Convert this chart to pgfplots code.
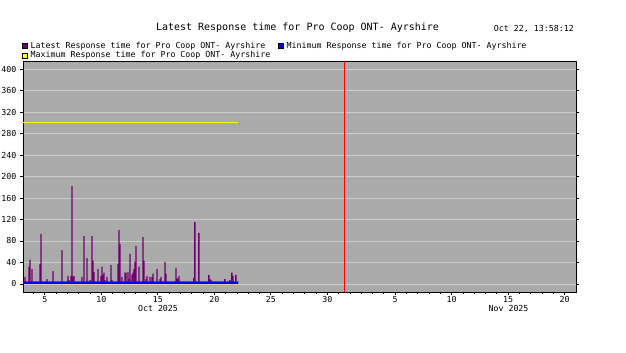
\documentclass[border=0pt]{standalone}
\usepackage{pgfplots}
\pgfplotsset{compat=1.18}
\usepackage{fontspec}
\setmainfont{DejaVu Sans Mono}
\definecolor{latest}{RGB}{112,0,112}
\definecolor{minblue}{RGB}{0,0,255}
\definecolor{maxyellow}{RGB}{255,255,0}
\definecolor{bg}{RGB}{170,170,170}
\definecolor{gridc}{RGB}{204,204,204}
\newcommand\smallf{\fontsize{8.3}{9.5}\selectfont}
\begin{document}
\begin{tikzpicture}[x=1pt,y=1pt]
\path[use as bounding box, fill=white] (0,0) rectangle (626,353);
\node[font=\fontsize{10}{12}\selectfont, anchor=center, inner sep=0pt] at (297.5,325.5) {Latest Response time for Pro Coop ONT- Ayrshire};
\node[font=\smallf, anchor=east, inner sep=0pt] at (574,323.5) {Oct 22, 13:58:12};
\begin{axis}[
  at={(23pt,61pt)}, anchor=south west,
  scale only axis, width=553pt, height=231pt,
  xmin=3.07, xmax=52, ymin=-15, ymax=415,
  axis background/.style={fill=bg},
  axis line style={black, line width=0.8pt},
  ytick={0,40,...,400},
  ymajorgrids, grid style={gridc, line width=0.8pt},
  xtick={5,10,15,20,25,30,36,41,46,51},
  xticklabels={5,10,15,20,25,30,5,10,15,20},
  minor xtick={4,...,51},
  xtick pos=bottom, ytick pos=both,
  tick align=outside,
  major tick length=3pt, minor tick length=2pt,
  tick style={black, line width=0.8pt},
  ticklabel style={font=\smallf},
  /pgf/number format/assume math mode=true,
  xticklabel style={yshift=2pt},
  legend columns=2,
  legend cell align=left,
  legend style={at={(0,1)}, anchor=south west, draw=none, fill=none, font=\smallf,
    inner sep=0pt, yshift=0.5pt, xshift=-1pt,
    nodes={inner sep=0.8pt},
    /tikz/every odd column/.append style={column sep=1.8pt},
    /tikz/every even column/.append style={column sep=7pt}},
  legend image code/.code={\draw[#1, draw=black, line width=0.6pt] (0pt,-2.6pt) rectangle (5.2pt,2.6pt);},
]
\addlegendimage{fill=latest}
\addlegendentry{Latest Response time for Pro Coop ONT- Ayrshire}
\addlegendimage{fill=minblue}
\addlegendentry{Minimum Response time for Pro Coop ONT- Ayrshire}
\addlegendimage{fill=maxyellow}
\addlegendentry{Maximum Response time for Pro Coop ONT- Ayrshire}

% baseline of the latest series
\addplot[forget plot, draw=none, fill=latest] coordinates {(3.07,0) (3.07,5) (22.12,5) (22.12,0)} \closedcycle;
% spikes of the latest series
\addplot[forget plot, ybar, bar width=1.3pt, bar shift=0pt, fill=latest, draw=none] coordinates {
(3.247,13) (3.601,32) (3.689,45) (3.866,28) (4.573,37) (4.662,93) (5.192,9) (5.723,24)
(6.518,63) (7.049,15) (7.137,7) (7.314,15) (7.403,182) (7.491,13) (7.579,15)
(8.287,13) (8.464,89) (8.729,48) (8.994,7) (9.171,89) (9.260,43) (9.348,22) (9.702,28)
(9.967,15) (10.056,32) (10.144,17) (10.232,21) (10.321,7) (10.498,13) (10.852,35) (10.940,7)
(11.470,37) (11.559,100) (11.647,74) (11.824,13) (12.089,21) (12.178,21) (12.354,22) (12.443,9)
(12.531,56) (12.708,17) (12.797,21) (12.885,28) (12.974,41) (13.062,71) (13.327,32)
(13.681,87) (13.769,43) (13.946,9) (14.035,15) (14.300,13) (14.477,13) (14.566,19) (14.919,28)
(15.184,9) (15.273,13) (15.627,41) (15.715,19) (16.599,30) (16.688,11) (16.776,9) (16.865,15)
(18.190,11) (18.278,115) (18.632,95) (19.516,17) (19.604,9) (19.693,7)
(20.931,9) (21.373,7) (21.550,21) (21.638,15) (21.904,17)
};
% minimum
\addplot[forget plot, minblue, line width=2pt] coordinates {(3.07,1) (22.12,1)};
% maximum
\addplot[forget plot, maxyellow, line width=1pt] coordinates {(3.07,300) (22.12,300)};
% now marker
\addplot[forget plot, red, line width=1pt] coordinates {(31.5,-15) (31.5,415)};
\end{axis}
\node[font=\smallf] at (158,45) {Oct 2025};
\node[font=\smallf] at (508.5,45) {Nov 2025};
\end{tikzpicture}
\end{document}
